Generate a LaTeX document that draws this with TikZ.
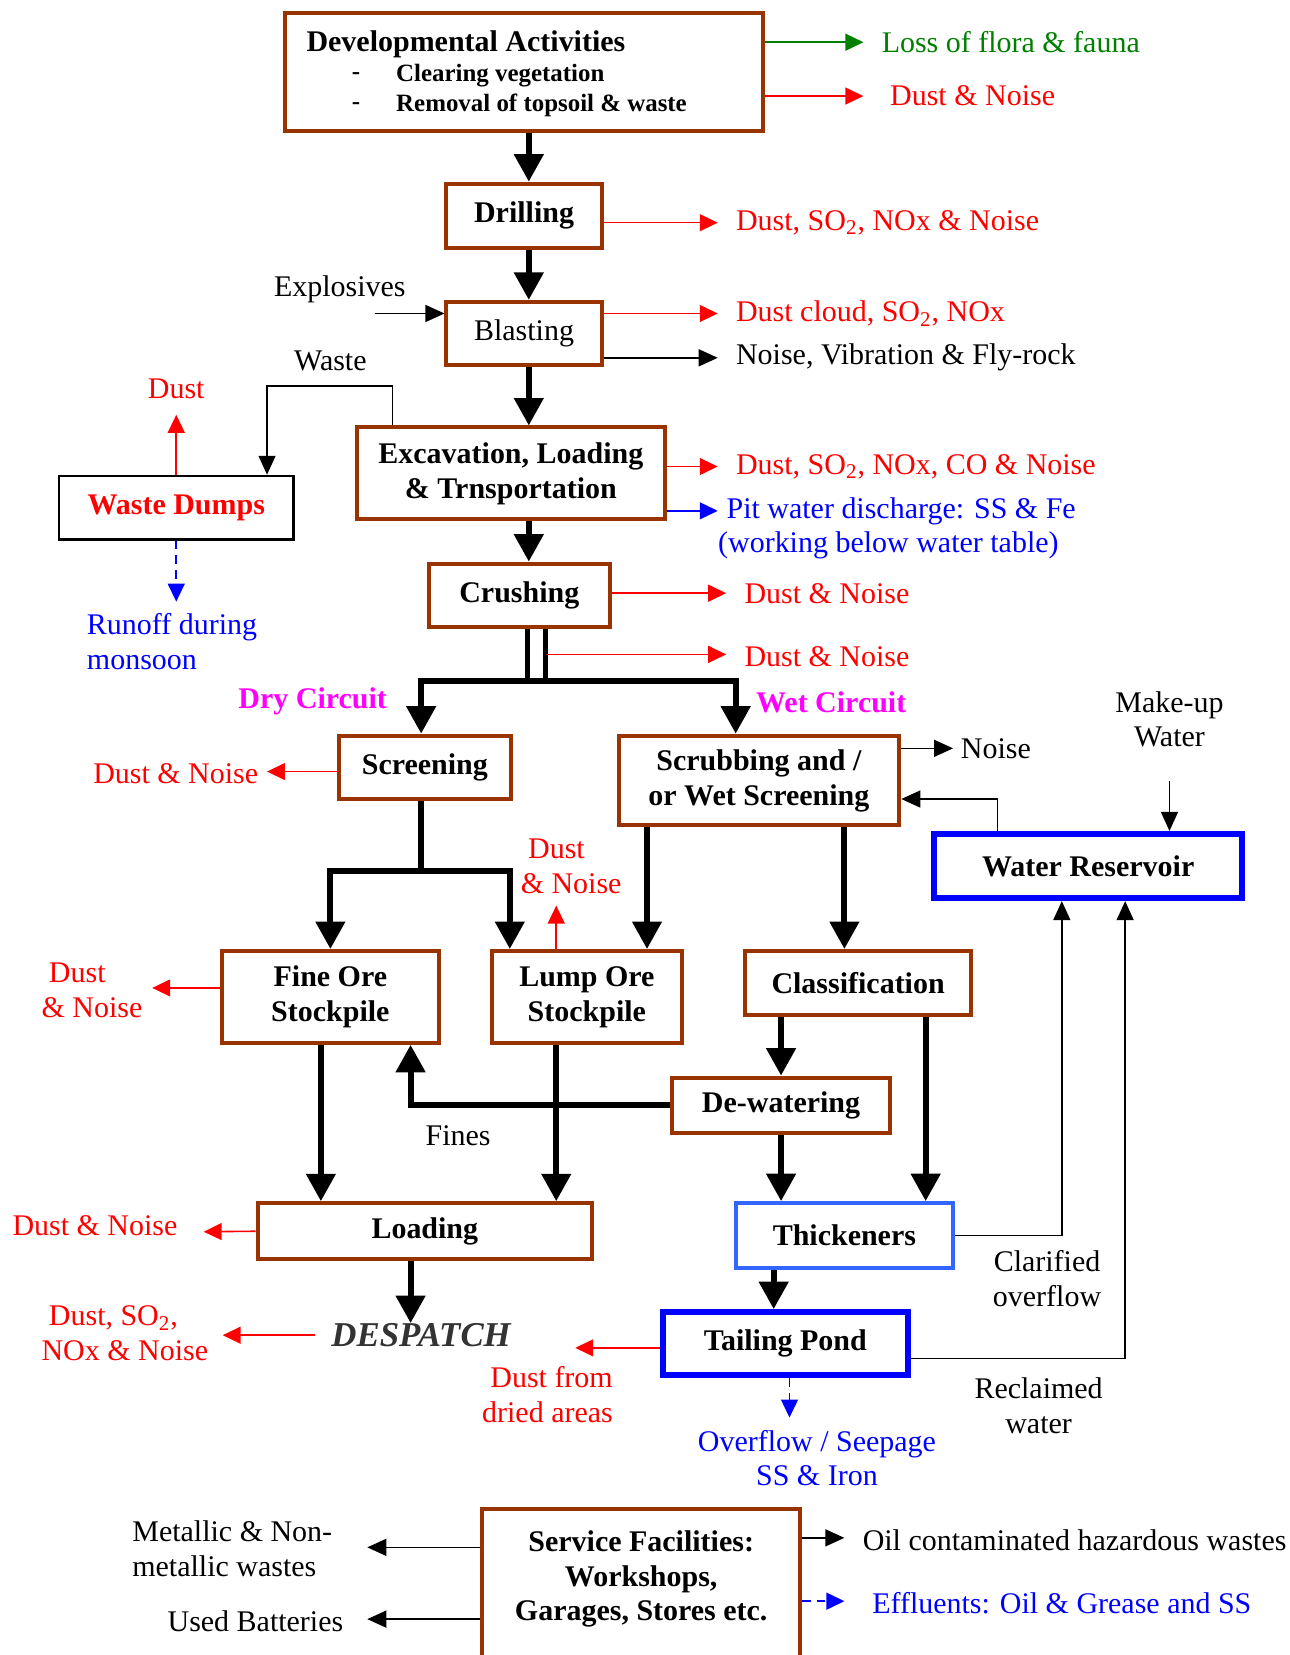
\documentclass[tikz,border=0pt]{standalone}
\usepackage{fontspec}
\setmainfont{Liberation Serif}
\usetikzlibrary{arrows.meta}
\definecolor{brn}{HTML}{993300}
\definecolor{lblue}{HTML}{3366FF}
\definecolor{grn}{HTML}{008000}
\definecolor{mag}{HTML}{FF00FF}
\definecolor{dgray}{HTML}{333333}
\newcommand\myfs{\fontsize{14.2}{16.5}\selectfont}
\newcommand\mysfs{\fontsize{11.8}{14}\selectfont}
\begin{document}
\begin{tikzpicture}[x=0.5pt,y=-0.5pt,
  every node/.style={font=\myfs, inner sep=0pt},
  pbox/.style={draw=brn, line width=1.9pt, fill=white, font=\myfs\bfseries, align=center},
  bluebox/.style={draw=blue, line width=2.7pt, fill=white, font=\myfs\bfseries, align=center},
  tk/.style={line width=2.85pt, -{Triangle[width=13.5pt,length=13pt]}},
  tkb/.style={line width=2.85pt, line join=miter, {Triangle[width=13.5pt,length=13pt]}-{Triangle[width=13.5pt,length=13pt]}},
  tkl/.style={line width=2.6pt},
  bk/.style={line width=0.8pt, -{Triangle[width=8pt,length=9pt]}},
  rd/.style={red, line width=0.75pt, -{Triangle[width=8pt,length=8.5pt]}},
  bl/.style={blue, line width=0.75pt, -{Triangle[width=8pt,length=8.5pt]}},
  bld/.style={blue, line width=0.75pt, dash pattern=on 4pt off 3pt, -{Triangle[width=8pt,length=8.5pt]}},
  gr/.style={grn, line width=0.75pt, -{Triangle[width=8pt,length=8.5pt]}},
  lb/.style={yshift=-1pt},
  rtxt/.style={lb, text=red},
  btxt/.style={lb, text=blue}
]
\useasboundingbox[fill=white] (0,0) rectangle (1222,1568);

% ---------- boxes ----------
\node[pbox, minimum width=226.5pt, minimum height=56pt] (dev) at (496.5,68) {};
\node[lb, anchor=west, font=\myfs\bfseries] (devt) at (290,40) {Developmental Activities};
\node[lb, anchor=west, font=\mysfs\bfseries] (dsh1) at (333,70) {-};
\node[lb, anchor=west, font=\mysfs\bfseries] (dv1) at (375,70) {Clearing vegetation};
\node[lb, anchor=west, font=\mysfs\bfseries] (dsh2) at (333,98) {-};
\node[lb, anchor=west, font=\mysfs\bfseries] (dv2) at (375,98) {Removal of topsoil \& waste};

\node[pbox, minimum width=73.5pt, minimum height=30.5pt] (drill) at (496.5,204.5) {Drilling};
\node[pbox, font=\myfs, minimum width=73.5pt, minimum height=30pt] (blast) at (496.5,316) {Blasting};
\node[pbox, minimum width=146pt, minimum height=43.5pt] (exc) at (484,448.5) {Excavation, Loading\\\& Trnsportation};
\node[draw=black, line width=1.2pt, fill=white, font=\myfs\bfseries, text=red, minimum width=111pt, minimum height=30pt] (waste) at (167,481) {Waste Dumps};
\node[pbox, minimum width=86pt, minimum height=30pt] (crush) at (492,564) {Crushing};
\node[pbox, minimum width=81.5pt, minimum height=30pt] (screen) at (402.5,727) {Screening};
\node[pbox, minimum width=133pt, minimum height=42.5pt] (scrub) at (719,739.5) {Scrubbing and /\\or Wet Screening};
\node[bluebox, minimum width=146pt, minimum height=30.5pt] (res) at (1031,820.5) {Water Reservoir};
\node[pbox, minimum width=103pt, minimum height=43.5pt] (fine) at (313,944.5) {Fine Ore\\Stockpile};
\node[pbox, minimum width=90pt, minimum height=43.5pt] (lump) at (556,944.5) {Lump Ore\\Stockpile};
\node[pbox, minimum width=107pt, minimum height=30.5pt] (class) at (813,931.5) {Classification};
\node[pbox, minimum width=103pt, minimum height=26pt] (dewater) at (740,1047) {De-watering};
\node[pbox, minimum width=158.5pt, minimum height=26.5pt] (loading) at (402.5,1166.5) {Loading};
\node[draw=lblue, line width=2pt, fill=white, font=\myfs\bfseries, minimum width=103pt, minimum height=30.5pt] (thick) at (800,1170.5) {Thickeners};
\node[bluebox, minimum width=116pt, minimum height=30pt] (tail) at (744,1273) {Tailing Pond};
\node[pbox, minimum width=150.5pt, minimum height=82pt] (svc) at (607.5,1512) {};
\node[lb, font=\myfs\bfseries, align=center] (svct) at (607.5,1494) {Service Facilities:\\Workshops,\\Garages, Stores etc.};
\node[lb, font=\fontsize{16.5}{19}\selectfont\bfseries\itshape, text=dgray] (desp) at (399,1263) {DESPATCH};

% ---------- labels ----------
\node[lb, anchor=west, text=grn] (l1) at (835,38) {Loss of flora \& fauna};
\node[anchor=west, rtxt] (l2) at (843,89) {Dust \& Noise};
\node[anchor=west, rtxt] (l3) at (697,209) {Dust, SO\textsubscript{2}, NOx \& Noise};
\node[lb] (lex) at (322,272) {Explosives};
\node[anchor=west, rtxt] (l4) at (697,295) {Dust cloud, SO\textsubscript{2}, NOx};
\node[lb, anchor=west] (l5) at (697,337) {Noise, Vibration \& Fly-rock};
\node[lb] (lwaste) at (313,340) {Waste};
\node[rtxt] (ldw) at (167,366) {Dust};
\node[anchor=west, rtxt] (l6) at (697,440) {Dust, SO\textsubscript{2}, NOx, CO \& Noise};
\node[anchor=west, btxt] (l7) at (688,482) {Pit water discharge: SS \& Fe};
\node[anchor=west, btxt] (l7b) at (680,515) {(working below water table)};
\node[anchor=west, btxt, align=left] (lro) at (82,605.5) {Runoff during\\monsoon};
\node[anchor=west, rtxt] (l8) at (705,560) {Dust \& Noise};
\node[anchor=west, rtxt] (l9) at (705,620) {Dust \& Noise};
\node[lb, anchor=east, font=\myfs\bfseries, text=mag] (ldry) at (367,662) {Dry Circuit};
\node[lb, anchor=west, font=\myfs\bfseries, text=mag] (lwet) at (716,663) {Wet Circuit};
\node[lb, align=center] (lmk) at (1108,679.5) {Make-up\\Water};
\node[lb, anchor=west] (lnoise) at (910,707) {Noise};
\node[anchor=east, rtxt] (lsc) at (245,731) {Dust \& Noise};
\node[rtxt, anchor=west, align=left] (llump) at (493,819) {\hspace*{3.5pt}Dust\\\& Noise};
\node[rtxt, anchor=west, align=left] (lfine) at (39,936) {\hspace*{3.5pt}Dust\\\& Noise};
\node[lb] (lfines) at (434,1074) {Fines};
\node[rtxt] (lld) at (90,1159) {Dust \& Noise};
\node[rtxt, anchor=west, align=left] (lds) at (39,1261) {\hspace*{3.5pt}Dust, SO\textsubscript{2},\\NOx \& Noise};
\node[lb, align=center] (lcl) at (992,1209.5) {Clarified\\overflow};
\node[lb, align=center] (lrc) at (984,1329.5) {Reclaimed\\water};
\node[rtxt, anchor=east, align=right] (ldf) at (581,1319.5) {Dust from\\dried areas};
\node[btxt, align=center] (lov) at (774,1379.5) {Overflow / Seepage\\SS \& Iron};
\node[lb, anchor=west, align=left] (lmet) at (125,1465) {Metallic \& Non-\\metallic wastes};
\node[lb] (lbat) at (242,1534) {Used Batteries};
\node[lb, anchor=west] (loil) at (817,1457) {Oil contaminated hazardous wastes};
\node[anchor=west, btxt] (leff) at (826,1517) {Effluents: Oil \& Grease and SS};

% ---------- free-end coordinates ----------
\coordinate (jA) at (500,645);
\coordinate (jB) at (517,645);
\coordinate (jL) at (399,645);
\coordinate (jR) at (697,645);
\coordinate (cd2) at (517,620);
\coordinate (ex) at (355,297);
\coordinate (wc) at (253,366);
\coordinate (ro) at (167,570);
\coordinate (dwt) at (167,393);
\coordinate (mu) at (1108,740);
\coordinate (sj) at (399,825);
\coordinate (sL) at (313,825);
\coordinate (sR) at (483,825);
\coordinate (ldt) at (527,858);
\coordinate (lt) at (193,1167);
\coordinate (dt) at (211,1262);
\coordinate (tt) at (545,1277);
\coordinate (td) at (748,1343);
\coordinate (s1) at (348,1466);
\coordinate (s2) at (348,1534);
\coordinate (s3) at (800,1457);
\coordinate (s4) at (800,1517);

% ---------- main thick flow ----------
\draw[tk] ([xshift=2.25pt]dev.south) -- ([xshift=2.25pt]drill.north);
\draw[tk] ([xshift=2.25pt]drill.south) -- ([xshift=2.25pt]blast.north);
\draw[tk] ([xshift=2.25pt]blast.south) -- ([xshift=2.25pt]blast.south |- exc.north);
\draw[tk] ([xshift=2.25pt]blast.south |- exc.south) -- ([xshift=2.25pt]blast.south |- crush.north);
\draw[tkl] (crush.south -| jA) -- (jA);
\draw[tkl] (crush.south -| jB) -- (jB);
\draw[tkb] (screen.north -| jL) -- (jL) -- (jR) -- (scrub.north -| jR);
\draw[tkl] (screen.south -| sj) -- (sj);
\draw[tkb] (fine.north -| sL) -- (sL) -- (sR) -- (lump.north -| sR);
\draw[tk] ([xshift=-53pt]scrub.south) -- ([xshift=-53pt]scrub.south |- lump.north);
\draw[tk] ([xshift=40.5pt]scrub.south) -- ([xshift=40.5pt]scrub.south |- class.north);
\draw[tk] (class.south -| dewater.north) -- (dewater.north);
\draw[tk] ([xshift=32pt]class.south) -- ([xshift=32pt]class.south |- thick.north);
\draw[tk] (dewater.west) -| ([xshift=38pt]fine.south);
\draw[tk] (dewater.south) -- (dewater.south |- thick.north);
\draw[tk] ([xshift=-4.5pt]fine.south) -- ([xshift=-4.5pt]fine.south |- loading.north);
\draw[tk] ([xshift=-14.5pt]lump.south) -- ([xshift=-14.5pt]lump.south |- loading.north);
\draw[tk] ([xshift=-6.75pt]loading.south) -- ([xshift=-6.75pt]loading.south |- desp.north);
\draw[tk] ([xshift=-33.5pt]thick.south) -- ([xshift=-33.5pt]thick.south |- tail.north);

% ---------- side arrows ----------
\draw[gr] (dev.east |- l1.west) -- ([xshift=-8.5pt]l1.west);
\draw[rd] (dev.east |- l2.west) -- ([xshift=-12.5pt]l2.west);
\draw[rd] (drill.east |- l3.west) -- ([xshift=-8.5pt]l3.west);
\draw[bk] (ex) -- (ex -| blast.west);
\draw[rd] (blast.east |- l4.west) -- ([xshift=-8.5pt]l4.west);
\draw[bk] (blast.east |- l5.west) -- ([xshift=-8.5pt]l5.west);
\draw[bk] ([xshift=-56pt]exc.north) |- (wc) -- (wc |- waste.north);
\draw[rd] (waste.north) -- (dwt);
\draw[bld] (waste.south) -- (ro);
\draw[rd] (exc.east |- l6.west) -- ([xshift=-8.5pt]l6.west);
\draw[bl] (exc.east |- l7.west) -- ([xshift=-4pt]l7.west);
\draw[rd] (crush.east |- l8.west) -- ([xshift=-8.5pt]l8.west);
\draw[rd] (cd2) -- ([xshift=-8.5pt]l9.west |- cd2);
\draw[rd] ([yshift=-2pt]screen.west) coordinate (q1) -- ([xshift=4pt]lsc.east |- q1);
\draw[bk] (scrub.east |- lnoise.west) -- ([xshift=-3.5pt]lnoise.west);
\draw[bk] ([xshift=-43pt]res.north) |- ([yshift=-8.75pt]scrub.east);
\draw[bk] (mu) -- (mu |- res.north);
\draw[rd] ([xshift=-14.5pt]lump.north) -- (ldt);
\draw[rd] ([yshift=4.25pt]fine.west) coordinate (q2) -- ([xshift=4.5pt]lfine.east |- q2);
\draw[rd] (loading.west) -- (lt);
\draw[rd] ([xshift=-7.5pt]desp.west) coordinate (q3) -- (dt |- q3);
\draw[bk] (thick.east) -| ([xshift=-12.5pt]res.south);
\draw[bk] ([yshift=-7pt]tail.east) -| ([xshift=17.5pt]res.south);
\draw[rd] ([yshift=-2pt]tail.west) -- (tt);
\draw[bld] ([xshift=2pt]tail.south) -- (td);
\draw[bk] (svc.west |- s1) -- (s1);
\draw[bk] (svc.west |- s2) -- (s2);
\draw[bk] (svc.east |- s3) -- (s3);
\draw[bld] (svc.east |- s4) -- (s4);
\end{tikzpicture}
\end{document}
